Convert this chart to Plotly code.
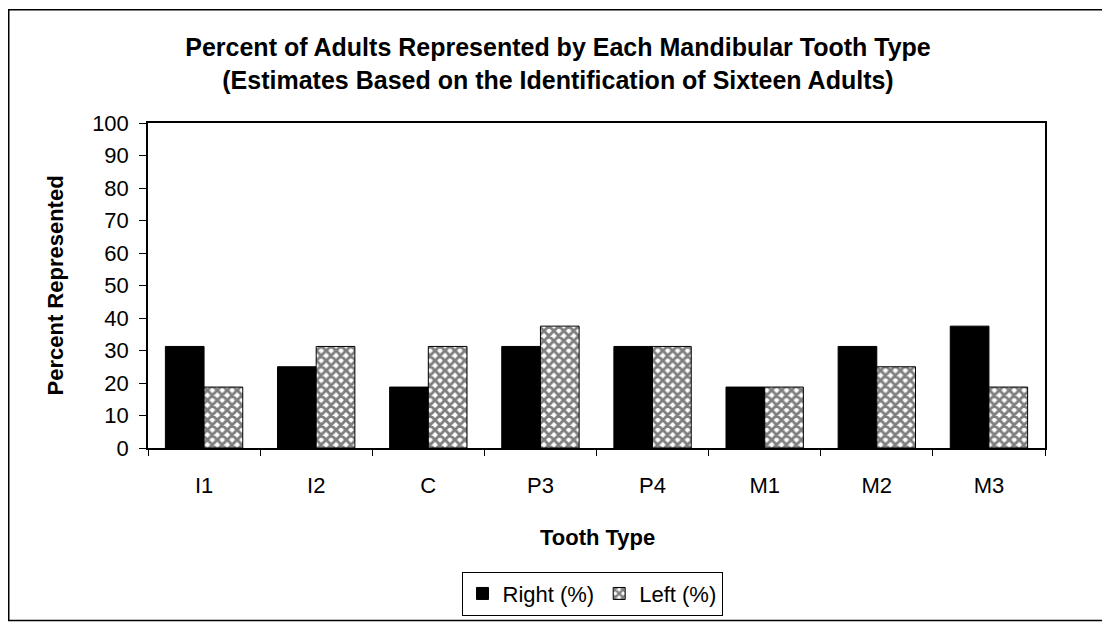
import plotly.graph_objects as go

categories = ["I1", "I2", "C", "P3", "P4", "M1", "M2", "M3"]
right_pct = [31.25, 25, 18.75, 31.25, 31.25, 18.75, 31.25, 37.5]
left_pct = [18.75, 31.25, 31.25, 37.5, 31.25, 18.75, 25, 18.75]
y_ticks = list(range(0, 101, 10))

# page body has an 8px margin, so figure coords = screen coords - 8
W, H = 1102, 620
ml, mr, mt, mb = 140, 65, 115, 177
pw, ph = W - ml - mr, H - mt - mb

def px2x(px):
    return (px - 8 - ml) / pw

def py2y(py):
    return (H - mb - (py - 8)) / ph

font = "Arial, Liberation Sans, sans-serif"

fig = go.Figure()
fig.add_trace(go.Bar(
    x=categories, y=right_pct, name="Right (%)",
    marker=dict(color="#000000", line=dict(color="#000000", width=1)),
))
fig.add_trace(go.Bar(
    x=categories, y=left_pct, name="Left (%)",
    marker=dict(color="#808080", line=dict(color="#000000", width=1),
                pattern=dict(shape="x", fgcolor="#000000", bgcolor="#ffffff",
                             size=7, solidity=0.65)),
))

fig.update_layout(
    width=W, height=H,
    margin=dict(l=ml, r=mr, t=mt, b=mb),
    paper_bgcolor="white", plot_bgcolor="white",
    barmode="group", bargap=0.31, bargroupgap=0,
    font=dict(family=font, size=22, color="black"),
    title=dict(
        text="<b>Percent of Adults Represented by Each Mandibular Tooth Type<br>(Estimates Based on the Identification of Sixteen Adults)</b>",
        x=px2x(558), xref="paper", xanchor="center",
        y=1 - (56 - 8) / H, yref="container", yanchor="middle",
        font=dict(family=font, size=25, color="black"),
    ),
    xaxis=dict(
        showline=True, linecolor="black", linewidth=1.5, mirror=True,
        ticks="outside", ticklen=6, tickcolor="black", tickson="boundaries",
        tickfont=dict(size=22), showgrid=False, ticklabelstandoff=17,
    ),
    yaxis=dict(
        range=[0, 100], tickvals=y_ticks,
        showline=True, linecolor="black", linewidth=1.5, mirror=True,
        ticks="outside", ticklen=7, tickcolor="black",
        tickfont=dict(size=22), showgrid=False, zeroline=False,
        ticklabelstandoff=6,
    ),
    legend=dict(
        orientation="h", x=px2x(592), xanchor="center",
        y=py2y(598), yanchor="middle",
        bordercolor="black", borderwidth=1, bgcolor="white",
        font=dict(size=22), itemwidth=30, traceorder="normal",
    ),
    annotations=[
        dict(text="<b>Tooth Type</b>", xref="paper", yref="paper",
             x=px2x(597), y=py2y(541), xanchor="center", yanchor="middle",
             showarrow=False, font=dict(size=22)),
        dict(text="<b>Percent Represented</b>", xref="paper", yref="paper",
             x=px2x(55), y=0.5, xanchor="center", yanchor="middle",
             textangle=-90, showarrow=False, font=dict(size=22)),
    ],
    shapes=[dict(
        type="rect", xref="paper", yref="paper",
        x0=(0.75 - ml) / pw, x1=(1097 - ml) / pw,
        y0=(H - mb - 617) / ph, y1=(H - mb - 0.75) / ph,
        line=dict(color="black", width=1.5), fillcolor="rgba(0,0,0,0)", layer="below",
    )],
)

fig.write_html("out.html")
